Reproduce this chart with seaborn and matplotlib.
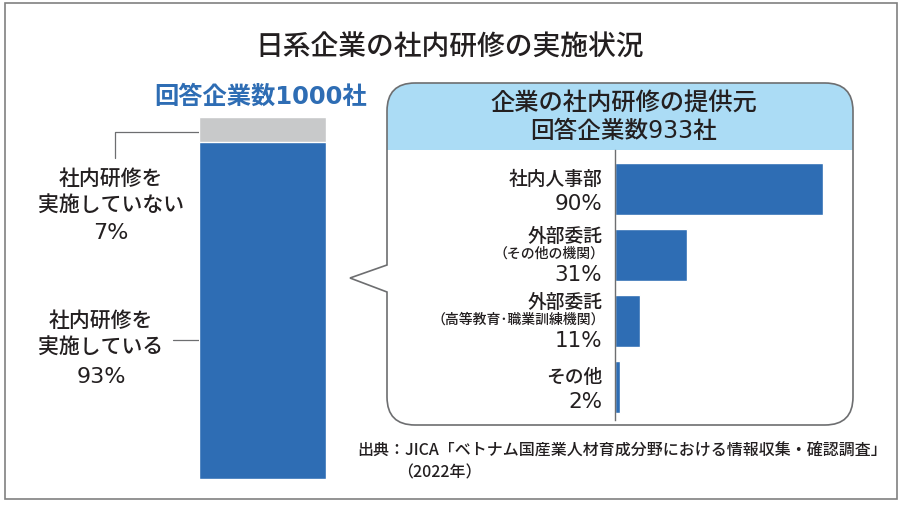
import matplotlib.pyplot as plt
import numpy as np
import pandas as pd
import seaborn as sns
from matplotlib.patches import PathPatch, Rectangle
from matplotlib.path import Path

# Data
implemented_labels = ["社内研修を\n実施している", "社内研修を\n実施していない"]
implemented_share = [93, 7]
respondents_total = 1000
respondents_trained = 933

provider_labels = ["社内人事部", "外部委託", "外部委託", "その他"]
provider_notes = ["", "（その他の機関）", "（高等教育･職業訓練機関）", ""]
provider_share = [90, 31, 11, 2]

BLUE = "#2e6db4"
GRAY = "#c8c9ca"
LIGHT_BLUE = "#abdcf5"
TEXT = "#231f20"
NUM_FONT = ["DejaVu Sans", "Noto Sans CJK JP"]

sns.set_theme(style="white")
plt.rcParams["font.family"] = ["Noto Sans CJK JP", "DejaVu Sans"]

fig = plt.figure(figsize=(9.01, 5.05), dpi=100)
W, H = 901, 505

# background axes in pixel coordinates for frames and free text
bg = fig.add_axes([0, 0, 1, 1])
bg.set_xlim(0, W)
bg.set_ylim(H, 0)
bg.axis("off")

bg.add_patch(Rectangle((5, 3), 892, 496, fill=False, edgecolor="#808080", lw=1.2))

bg.text(450, 47, "日系企業の社内研修の実施状況", ha="center", va="center",
        fontsize=20, fontweight="medium", color=TEXT)
bg.text(261, 97, f"回答企業数{respondents_total}社", ha="center", va="center",
        fontsize=17.5, fontweight="bold", color=BLUE, family=NUM_FONT)

# callout box with pointer
x0, x1, y0, y1, r = 387, 853, 83, 425, 28
verts = [
    (x0 + r, y0), (x1 - r, y0), (x1, y0), (x1, y0 + r),
    (x1, y1 - r), (x1, y1), (x1 - r, y1),
    (x0 + r, y1), (x0, y1), (x0, y1 - r),
    (x0, 292), (350, 278), (x0, 265),
    (x0, y0 + r), (x0, y0), (x0 + r, y0),
]
codes = [
    Path.MOVETO, Path.LINETO, Path.CURVE3, Path.CURVE3,
    Path.LINETO, Path.CURVE3, Path.CURVE3,
    Path.LINETO, Path.CURVE3, Path.CURVE3,
    Path.LINETO, Path.LINETO, Path.LINETO,
    Path.LINETO, Path.CURVE3, Path.CURVE3,
]
callout = PathPatch(Path(verts, codes), facecolor="white", edgecolor="none")
bg.add_patch(callout)
header = Rectangle((x0, y0), x1 - x0, 67, facecolor=LIGHT_BLUE, edgecolor="none")
bg.add_patch(header)
header.set_clip_path(callout)
bg.add_patch(PathPatch(Path(verts, codes), facecolor="none", edgecolor="#6d6e70", lw=1.2))

bg.text(624, 103, "企業の社内研修の提供元", ha="center", va="center", fontsize=17.5,
        fontweight="medium", color=TEXT)
bg.text(624, 131, f"回答企業数{respondents_trained}社", ha="center", va="center",
        fontsize=17, fontweight="medium", color=TEXT, family=NUM_FONT)

# left stacked bar
ax_l = fig.add_axes([199 / W, (H - 479) / H, 127 / W, 362 / H])
total = sum(implemented_share)
sns.barplot(x=["all"], y=[total], color=GRAY, width=1, saturation=1, ax=ax_l)
sns.barplot(x=["all"], y=[implemented_share[0]], color=BLUE, width=1, saturation=1, ax=ax_l)
ax_l.set_xlim(-0.5, 0.5)
ax_l.set_ylim(0, total)
ax_l.axis("off")

# left labels and leader lines
bg.text(111, 192, implemented_labels[1], ha="center", va="center", fontsize=15,
        fontweight="medium", color=TEXT, linespacing=1.3)
bg.text(111, 233, f"{implemented_share[1]}%", ha="center", va="center", fontsize=16,
        color=TEXT, family=NUM_FONT)
bg.text(101, 334, implemented_labels[0], ha="center", va="center", fontsize=15,
        fontweight="medium", color=TEXT, linespacing=1.3)
bg.text(101, 377, f"{implemented_share[0]}%", ha="center", va="center", fontsize=16,
        color=TEXT, family=NUM_FONT)
bg.plot([115, 115, 213], [158, 132, 132], color="#6d6e70", lw=0.9)
bg.plot([173, 210], [340, 340], color="#6d6e70", lw=0.9)

# right horizontal bars
df = pd.DataFrame({"key": [a + b for a, b in zip(provider_labels, provider_notes)],
                   "share": provider_share})
ax_r = fig.add_axes([615 / W, (H - 420) / H, 231 / W, 270 / H])
sns.barplot(data=df, x="share", y="key", orient="h", color=BLUE, width=0.8,
            saturation=1, ax=ax_r)
ax_r.set_xlim(0, 100)
ax_r.set_ylim(3.5, -0.59)
ax_r.patch.set_alpha(0)
for side in ["top", "right", "bottom"]:
    ax_r.spines[side].set_visible(False)
ax_r.spines["left"].set_color("#6d6e70")
ax_r.spines["left"].set_linewidth(1)
ax_r.set_xticks([])
ax_r.set_yticks([])
ax_r.set_xlabel("")
ax_r.set_ylabel("")

tr = ax_r.get_yaxis_transform()
px = 1 / 66
lx = -0.055
for i, (lab, note, val) in enumerate(zip(provider_labels, provider_notes, provider_share)):
    if note:
        ax_r.text(lx, i - 18 * px, lab, transform=tr, ha="right", va="center",
                  fontsize=13.5, fontweight="medium", color=TEXT)
        ax_r.text(lx + 0.01, i - 1 * px, note, transform=tr, ha="right", va="center",
                  fontsize=10, fontweight="medium", color=TEXT)
        ax_r.text(lx, i + 20 * px, f"{val}%", transform=tr, ha="right", va="center",
                  fontsize=15.5, color=TEXT, family=NUM_FONT)
    else:
        ax_r.text(lx, i - 9 * px, lab, transform=tr, ha="right", va="center",
                  fontsize=13.5, fontweight="medium", color=TEXT)
        ax_r.text(lx, i + 15 * px, f"{val}%", transform=tr, ha="right", va="center",
                  fontsize=15.5, color=TEXT, family=NUM_FONT)

# source
bg.text(357, 450, "出典：JICA「ベトナム国産業人材育成分野における情報収集・確認調査」",
        ha="left", va="center", fontsize=11.5, fontweight="medium", color=TEXT)
bg.text(397, 473, "（2022年）", ha="left", va="center", fontsize=11.5,
        fontweight="medium", color=TEXT)

fig.savefig("out.png", dpi=100)
